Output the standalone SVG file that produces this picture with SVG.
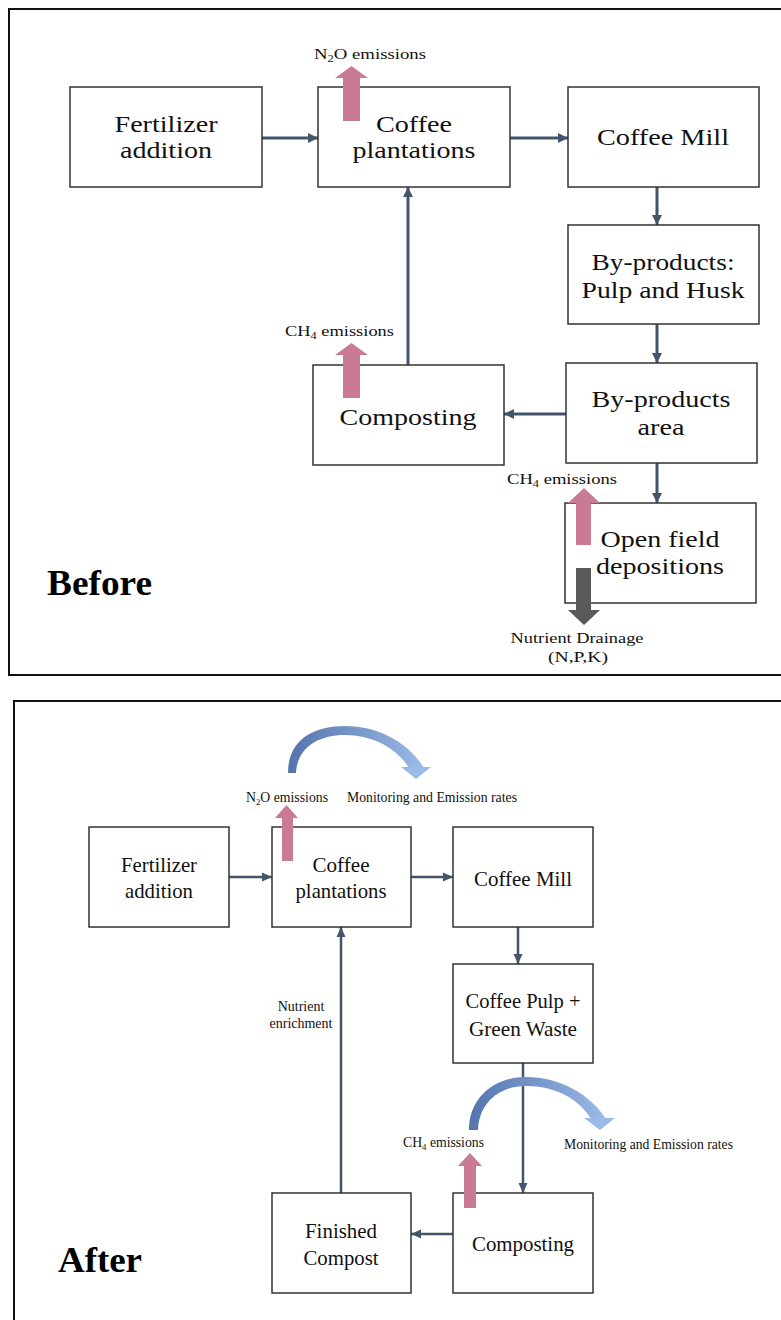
<svg xmlns="http://www.w3.org/2000/svg" width="781" height="1320" viewBox="0 0 781 1320">
<style>
.frame{fill:none;stroke:#111;stroke-width:2}
.box{fill:#fff;stroke:#333;stroke-width:1.5}
.bt{font-family:"Liberation Serif","Times New Roman",serif;font-size:24px;fill:#111;text-anchor:middle}
.at{font-family:"Liberation Serif","Times New Roman",serif;font-size:22px;fill:#111;text-anchor:middle}
.lb{font-family:"Liberation Serif","Times New Roman",serif;font-size:15px;fill:#111}
.la{font-family:"Liberation Serif","Times New Roman",serif;font-size:14px;fill:#111}
.title{font-family:"Liberation Serif","Times New Roman",serif;font-weight:bold;font-size:36px;fill:#000}
.conn{fill:none;stroke:#44546A;stroke-width:3;marker-end:url(#ah)}
.conn2{fill:none;stroke:#44546A;stroke-width:2.5;marker-end:url(#ah2)}
.pink{fill:#C97B93}
.gray{fill:#595959}
.curve{fill:url(#bg)}
</style>
<defs>
<marker id="ah" markerUnits="userSpaceOnUse" markerWidth="12" markerHeight="12" refX="10" refY="5" orient="auto">
<path d="M0,0 L10,5 L0,10 z" fill="#44546A"/>
</marker>
<marker id="ah2" markerUnits="userSpaceOnUse" markerWidth="12" markerHeight="12" refX="10" refY="5" orient="auto">
<path d="M0,0.5 L10,5 L0,9.5 z" fill="#44546A"/>
</marker>
<linearGradient id="bg" x1="0" y1="0" x2="1" y2="0">
<stop offset="0" stop-color="#5574AC"/>
<stop offset="1" stop-color="#9BBAE8"/>
</linearGradient>
</defs>

<!-- BEFORE -->
<rect class="frame" x="9" y="9" width="800" height="666"/>
<text class="title" x="47" y="595" textLength="105" lengthAdjust="spacingAndGlyphs">Before</text>

<g id="connectors-before">
<path class="conn" d="M262,138 L318,138"/>
<path class="conn" d="M510,138 L568,138"/>
<path class="conn" d="M657,187 L657,225"/>
<path class="conn" d="M657,324 L657,363"/>
<path class="conn" d="M566,414 L504,414"/>
<path class="conn" d="M408,365 L408,187"/>
<path class="conn" d="M657,463 L657,503"/>
</g>

<g id="b-fertilizer">
<rect class="box" x="70" y="87" width="192" height="100"/>
<text class="bt" x="166" y="132" textLength="103" lengthAdjust="spacingAndGlyphs">Fertilizer</text>
<text class="bt" x="166" y="158" textLength="92" lengthAdjust="spacingAndGlyphs">addition</text>
</g>
<g id="b-plantations">
<rect class="box" x="318" y="87" width="192" height="100"/>
<text class="bt" x="414" y="132" textLength="76" lengthAdjust="spacingAndGlyphs">Coffee</text>
<text class="bt" x="414" y="158" textLength="123" lengthAdjust="spacingAndGlyphs">plantations</text>
</g>
<g id="b-mill">
<rect class="box" x="568" y="87" width="191" height="100"/>
<text class="bt" x="663" y="145" textLength="132" lengthAdjust="spacingAndGlyphs">Coffee Mill</text>
</g>
<g id="b-byproducts">
<rect class="box" x="568" y="225" width="191" height="99"/>
<text class="bt" x="663" y="270" textLength="143" lengthAdjust="spacingAndGlyphs">By-products:</text>
<text class="bt" x="663" y="298" textLength="163" lengthAdjust="spacingAndGlyphs">Pulp and Husk</text>
</g>
<g id="b-area">
<rect class="box" x="566" y="363" width="191" height="100"/>
<text class="bt" x="661" y="407" textLength="139" lengthAdjust="spacingAndGlyphs">By-products</text>
<text class="bt" x="661" y="435" textLength="47" lengthAdjust="spacingAndGlyphs">area</text>
</g>
<g id="b-composting">
<rect class="box" x="313" y="365" width="191" height="100"/>
<text class="bt" x="408" y="425" textLength="137" lengthAdjust="spacingAndGlyphs">Composting</text>
</g>
<g id="b-openfield">
<rect class="box" x="565" y="503" width="191" height="100"/>
<text class="bt" x="660" y="547" textLength="119" lengthAdjust="spacingAndGlyphs">Open field</text>
<text class="bt" x="660" y="574" textLength="128" lengthAdjust="spacingAndGlyphs">depositions</text>
</g>

<g id="b-emissions">
<polygon class="pink" points="343,121 343,78 335,78 351.5,66 368,78 360,78 360,121"/>
<text class="lb" x="314" y="59" textLength="112" lengthAdjust="spacingAndGlyphs">N<tspan font-size="10" dy="3">2</tspan><tspan dy="-3">O emissions</tspan></text>
<polygon class="pink" points="343,398 343,355 335,355 351.5,343 368,355 360,355 360,398"/>
<text class="lb" x="285" y="336" textLength="109" lengthAdjust="spacingAndGlyphs">CH<tspan font-size="10" dy="3">4</tspan><tspan dy="-3"> emissions</tspan></text>
<polygon class="pink" points="576,545 576,503 568,503 584,488 600,503 591,503 591,545"/>
<text class="lb" x="507" y="484" textLength="110" lengthAdjust="spacingAndGlyphs">CH<tspan font-size="10" dy="3">4</tspan><tspan dy="-3"> emissions</tspan></text>
<polygon class="gray" points="576,568 591,568 591,610 600,610 584,625 568,610 576,610"/>
<text class="lb" x="577" y="643" text-anchor="middle" textLength="133" lengthAdjust="spacingAndGlyphs">Nutrient Drainage</text>
<text class="lb" x="578" y="662" text-anchor="middle" textLength="60" lengthAdjust="spacingAndGlyphs">(N,P,K)</text>
</g>

<!-- AFTER -->
<rect class="frame" x="14" y="701" width="800" height="640"/>
<text class="title" x="58" y="1272" textLength="84" lengthAdjust="spacingAndGlyphs">After</text>

<g id="connectors-after">
<path class="conn2" d="M229,877 L272,877"/>
<path class="conn2" d="M411,877 L453,877"/>
<path class="conn2" d="M518,927 L518,964"/>
<path class="conn2" d="M523,1063 L523,1193"/>
<path class="conn2" d="M453,1234 L411,1234"/>
<path class="conn2" d="M341,1193 L341,927"/>
</g>

<g id="a-fertilizer">
<rect class="box" x="89" y="827" width="140" height="100"/>
<text class="at" x="159" y="872" textLength="76" lengthAdjust="spacingAndGlyphs">Fertilizer</text>
<text class="at" x="159" y="898" textLength="68" lengthAdjust="spacingAndGlyphs">addition</text>
</g>
<g id="a-plantations">
<rect class="box" x="272" y="827" width="139" height="100"/>
<text class="at" x="341" y="872" textLength="57" lengthAdjust="spacingAndGlyphs">Coffee</text>
<text class="at" x="341" y="898" textLength="91" lengthAdjust="spacingAndGlyphs">plantations</text>
</g>
<g id="a-mill">
<rect class="box" x="453" y="827" width="140" height="100"/>
<text class="at" x="523" y="886" textLength="98" lengthAdjust="spacingAndGlyphs">Coffee Mill</text>
</g>
<g id="a-pulp">
<rect class="box" x="453" y="964" width="140" height="99"/>
<text class="at" x="523" y="1008" textLength="115" lengthAdjust="spacingAndGlyphs">Coffee Pulp +</text>
<text class="at" x="523" y="1036" textLength="108" lengthAdjust="spacingAndGlyphs">Green Waste</text>
</g>
<g id="a-finished">
<rect class="box" x="272" y="1193" width="139" height="100"/>
<text class="at" x="341" y="1238" textLength="72" lengthAdjust="spacingAndGlyphs">Finished</text>
<text class="at" x="341" y="1265" textLength="75" lengthAdjust="spacingAndGlyphs">Compost</text>
</g>
<g id="a-composting">
<rect class="box" x="453" y="1193" width="140" height="100"/>
<text class="at" x="523" y="1251" textLength="102" lengthAdjust="spacingAndGlyphs">Composting</text>
</g>

<g id="a-labels">
<text class="la" x="301" y="1011" text-anchor="middle">Nutrient</text>
<text class="la" x="301" y="1028" text-anchor="middle">enrichment</text>
</g>

<g id="a-emissions-top">
<path class="curve" d="M288,773 C288,740 313,726 345,726 C378,726 408,742 424,768 L409,768 C397,748 372,735 345,735 C318,735 297,748 296,773 Z"/>
<polygon points="401,767 431,767 416,779" fill="#9BBAE8"/>
<polygon class="pink" points="282,861 282,818 275,818 286.5,805 298,818 293,818 293,861"/>
<text class="la" x="246" y="802" textLength="82" lengthAdjust="spacingAndGlyphs">N<tspan font-size="9" dy="3">2</tspan><tspan dy="-3">O emissions</tspan></text>
<text class="la" x="347" y="802" textLength="170" lengthAdjust="spacingAndGlyphs">Monitoring and Emission rates</text>
</g>

<g id="a-emissions-bottom">
<path class="curve" d="M469,1130 C469,1097 495,1077 526,1077 C560,1077 590,1094 606,1119 L591,1119 C579,1099 556,1086 526,1086 C500,1086 479,1102 478,1130 Z"/>
<polygon points="584,1118 615,1118 600,1130" fill="#9BBAE8"/>
<polygon class="pink" points="464,1208 464,1166 458,1166 470,1153 482,1166 476,1166 476,1208"/>
<text class="la" x="403" y="1147" textLength="81" lengthAdjust="spacingAndGlyphs">CH<tspan font-size="9" dy="3">4</tspan><tspan dy="-3"> emissions</tspan></text>
<text class="la" x="564" y="1149" textLength="169" lengthAdjust="spacingAndGlyphs">Monitoring and Emission rates</text>
</g>
</svg>
